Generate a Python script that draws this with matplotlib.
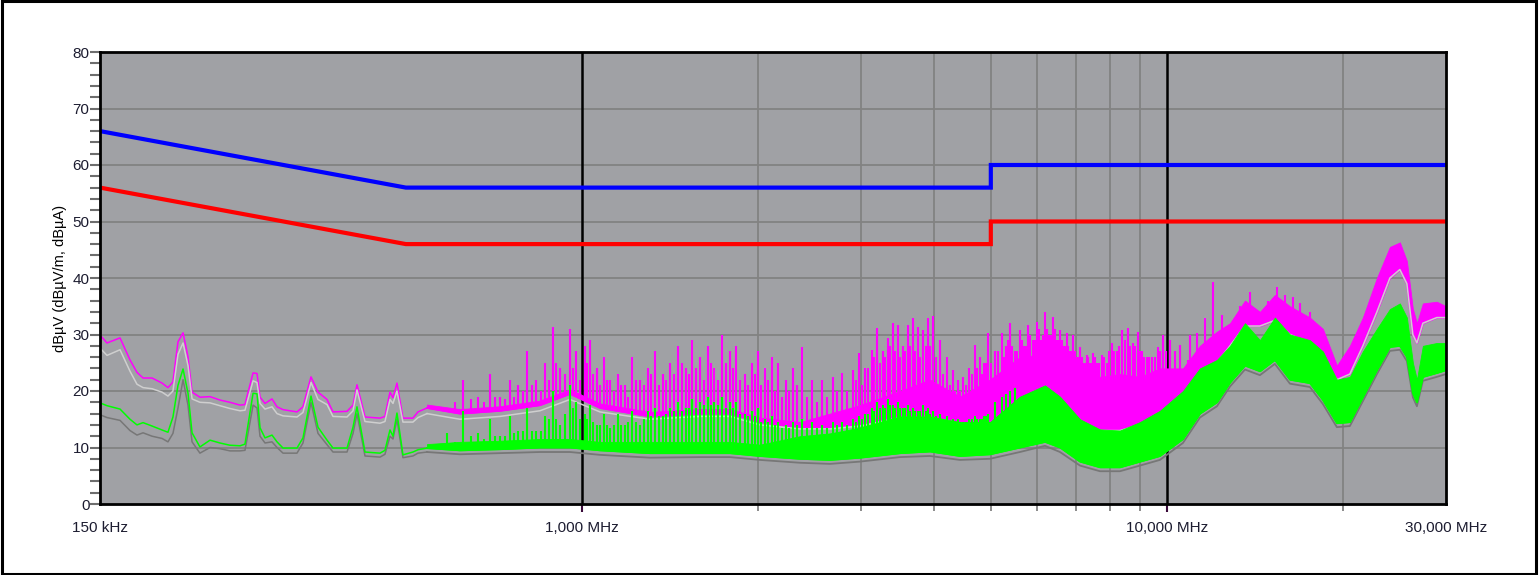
import numpy as np
import matplotlib
matplotlib.use("Agg")
import matplotlib.pyplot as plt
from matplotlib.patches import Rectangle

plt.rcParams['font.family'] = ['Liberation Sans', 'DejaVu Sans']

# ---------------- data ----------------
limit_f = [0.15, 0.5, 5.0, 5.0, 30.0]
qp_limit = [66, 56, 56, 60, 60]
avg_limit = [56, 46, 46, 50, 50]

# low-frequency part (individual traces), MHz / dBuV
low_f = [0.150, 0.1542, 0.1623, 0.1688, 0.1735, 0.1777, 0.1841, 0.1915, 0.1960, 0.1999,
         0.2039, 0.2080, 0.2121, 0.2155, 0.2223, 0.2313, 0.2405, 0.2502, 0.2603, 0.2654,
         0.2740, 0.2783, 0.2816, 0.2872, 0.2952, 0.3011, 0.3083, 0.3257, 0.3335, 0.3442,
         0.3538, 0.3666, 0.3753, 0.3966, 0.4061, 0.4125, 0.4257, 0.4516, 0.4605, 0.4697,
         0.4753, 0.4828, 0.4943, 0.5141, 0.5244, 0.5434]
low_pk = [29.9, 28.5, 29.4, 25.5, 23.3, 22.3, 22.3, 21.4, 20.6, 21.6,
          28.7, 30.3, 26.0, 19.8, 18.9, 19.0, 18.4, 18.0, 17.5, 17.6,
          23.2, 23.1, 18.9, 17.8, 18.6, 17.2, 16.7, 16.3, 17.2, 22.5,
          19.8, 18.5, 16.3, 16.4, 17.5, 21.1, 15.4, 15.2, 15.5, 19.8,
          18.8, 21.4, 15.2, 15.2, 16.3, 17.0]
low_lg = [27.6, 26.3, 27.3, 23.5, 21.2, 20.6, 20.4, 19.8, 19.1, 20.0,
          26.5, 28.5, 24.5, 18.6, 18.0, 17.9, 17.4, 16.9, 16.5, 16.6,
          21.8, 21.5, 17.8, 16.8, 17.2, 16.0, 15.6, 15.4, 16.2, 21.5,
          18.5, 17.6, 15.5, 15.4, 16.5, 20.2, 14.6, 14.3, 14.6, 18.5,
          17.8, 20.0, 14.5, 14.5, 15.3, 16.0]
low_av = [17.9, 17.4, 16.8, 15.0, 14.0, 14.4, 13.8, 13.1, 12.7, 15.4,
          21.0, 23.9, 19.6, 12.6, 10.1, 11.3, 10.8, 10.4, 10.3, 10.6,
          19.6, 19.5, 13.5, 11.7, 12.2, 11.0, 9.9, 9.9, 11.7, 19.1,
          13.6, 11.3, 9.9, 9.9, 13.6, 17.2, 9.2, 9.0, 9.5, 13.1,
          12.0, 16.1, 8.7, 9.2, 9.6, 9.9]
low_dg = [15.8, 15.3, 14.8, 13.0, 12.2, 12.6, 12.0, 11.6, 11.0, 12.5,
          17.0, 22.0, 17.5, 11.0, 9.0, 10.0, 9.8, 9.4, 9.4, 9.5,
          17.5, 17.0, 12.0, 10.8, 11.0, 10.0, 9.0, 9.0, 10.8, 18.0,
          12.5, 10.5, 9.2, 9.2, 12.5, 16.0, 8.5, 8.3, 8.8, 12.0,
          11.5, 15.0, 8.2, 8.5, 9.0, 9.2]

# dense part: lower/upper edges of the filled bands
band_f = [0.5434, 0.6186, 0.7244, 0.8476, 0.9539, 1.0733, 1.3069, 1.5911, 1.7906, 2.0149,
          2.3584, 2.6544, 2.9869, 3.4965, 3.9346, 4.4281, 4.9822, 5.6065, 6.1883, 6.5649,
          7.1028, 7.6829, 8.3113, 8.9920, 9.7275, 10.651, 11.387, 12.177, 12.820, 13.597,
          14.421, 15.297, 16.230, 17.556, 18.478, 19.524, 20.549, 21.627, 22.856, 24.054,
          25.018, 25.718, 26.332, 26.753, 27.390, 28.936, 30.0]
band_pk = [17.0, 16.0, 16.5, 17.5, 19.5, 17.0, 15.5, 16.0, 16.0, 14.5,
           13.5, 13.5, 14.0, 15.5, 15.5, 14.5, 14.3, 17.0, 19.5, 18.0,
           14.5, 13.0, 13.0, 14.0, 16.5, 19.0, 22.5, 25.0, 28.0, 31.5,
           31.5, 32.5, 30.0, 28.5, 26.0, 22.0, 23.0, 28.0, 34.0, 40.0,
           41.5, 39.0, 30.0, 28.5, 32.0, 33.0, 33.0]
band_pk_top = [17.6, 16.8, 17.3, 18.3, 20.3, 17.8, 16.3, 16.8, 16.8, 15.3,
               14.5, 16.0, 17.5, 20.0, 22.0, 19.0, 22.0, 26.0, 26.5, 25.0,
               23.5, 22.5, 23.0, 22.5, 24.0, 24.0, 28.0, 30.5, 32.0, 36.0,
               34.0, 37.0, 35.0, 33.0, 31.0, 24.5, 28.0, 33.0, 40.0, 45.5,
               46.3, 43.0, 34.5, 32.0, 35.5, 35.8, 35.0]
band_lg = [16.0, 15.0, 15.5, 16.5, 18.5, 16.3, 15.0, 15.5, 15.5, 14.0,
           13.3, 13.3, 13.8, 15.3, 15.3, 14.3, 14.0, 17.0, 19.5, 18.0,
           14.5, 13.0, 13.0, 14.0, 16.0, 19.0, 22.5, 25.0, 28.0, 31.5,
           31.5, 32.5, 30.0, 28.5, 26.0, 22.0, 23.0, 28.0, 34.0, 40.0,
           41.5, 39.0, 30.0, 28.5, 32.0, 33.0, 33.0]
band_av = [9.9, 9.5, 9.7, 10.0, 10.0, 9.5, 9.0, 9.0, 9.0, 8.5,
           8.0, 7.8, 8.2, 9.0, 9.3, 8.5, 8.8, 10.0, 11.0, 10.0,
           7.5, 6.5, 6.5, 7.5, 8.5, 11.5, 16.0, 18.0, 21.5, 24.5,
           23.5, 25.5, 22.0, 21.4, 18.4, 14.3, 14.5, 18.9, 23.7, 27.8,
           28.0, 26.0, 19.6, 18.0, 22.5, 23.2, 23.7]
band_av_top = [10.6, 11.0, 11.2, 11.5, 11.5, 11.0, 11.0, 11.0, 11.0, 10.5,
               12.0, 12.5, 13.5, 15.5, 15.5, 14.5, 14.5, 19.0, 21.0, 19.0,
               15.0, 13.2, 13.0, 14.5, 16.5, 20.0, 24.0, 25.5, 28.0, 32.0,
               29.0, 33.0, 30.0, 29.0, 27.0, 22.0, 22.5, 27.0, 31.0, 34.5,
               35.5, 33.0, 25.0, 22.0, 28.0, 28.5, 28.5]
band_dg = [9.2, 8.8, 9.0, 9.2, 9.2, 8.7, 8.2, 8.3, 8.3, 7.8,
           7.3, 7.1, 7.5, 8.3, 8.5, 7.8, 8.0, 9.2, 10.3, 9.2,
           6.8, 5.8, 5.8, 6.8, 7.8, 10.8, 15.3, 17.3, 20.8, 23.8,
           22.8, 24.8, 21.3, 20.7, 17.7, 13.6, 13.8, 18.2, 23.0, 27.1,
           27.3, 25.3, 18.9, 17.3, 21.8, 22.5, 23.0]

# peak-trace spikes (MHz, dBuV)
spike_f = [0.5877, 0.6259, 0.6640, 0.6962, 0.7244, 0.7535, 0.7775, 0.8054, 0.8343, 0.8646,
           0.8921, 0.9170, 0.9539, 0.9766, 1.0119, 1.0320, 1.0608, 1.0905, 1.1166, 1.1521,
           1.1844, 1.2174, 1.2563, 1.2966, 1.3329, 1.3755, 1.4138, 1.4591, 1.5058, 1.5417,
           1.5911, 1.6421, 1.6812, 1.7350, 1.7906, 1.8331, 1.8993, 1.9525, 1.9992, 2.0551,
           2.1125, 2.1627, 2.2320, 2.2945, 2.3773, 2.4727, 2.5720, 2.6857, 2.7826, 2.9056,
           2.9751, 3.0464, 3.1313, 3.1935, 3.2697, 3.3350, 3.4012, 3.4692, 3.5380, 3.6085,
           3.6802, 3.7537, 3.8282, 3.9047, 3.9811, 4.0926, 4.2064, 4.3074, 4.3927, 4.4806,
           4.5850, 4.6950, 4.7880, 4.8644, 4.9431, 5.0816, 5.2228, 5.3063, 5.3904, 5.4976,
           5.6065, 5.6962, 5.7864, 5.9012, 5.9958, 6.0907, 6.1883, 6.2863, 6.3858, 6.4883,
           6.5649, 6.6688, 6.7484, 6.8282, 6.9090, 7.0197, 7.1028, 7.2151, 7.2997, 7.3876,
           7.4749, 7.5934, 7.7446, 7.8978, 8.0538, 8.2130, 8.3768, 8.5769, 8.7487, 8.9219,
           9.0647, 9.2439, 9.4291, 9.6518, 9.8446, 10.118, 10.320, 10.524, 10.862, 10.947,
           11.254, 11.614, 11.985, 12.417, 13.33, 13.87, 14.88, 15.42, 15.91, 16.42,
           16.88, 17.556]
spike_pk = [17.0, 22.0, 19.0, 23.0, 19.0, 22.0, 21.0, 27.0, 22.0, 25.0,
            31.3, 24.0, 31.0, 27.0, 28.0, 29.0, 24.0, 26.0, 22.0, 23.0,
            21.0, 26.0, 22.0, 24.0, 27.0, 23.0, 25.0, 28.0, 24.0, 29.0,
            26.0, 28.0, 24.0, 30.0, 27.0, 28.0, 23.0, 25.0, 27.0, 24.0,
            26.0, 25.0, 22.0, 24.0, 27.8, 22.0, 21.9, 22.5, 23.2, 23.7,
            26.7, 24.0, 27.3, 31.2, 27.0, 29.4, 32.0, 31.7, 28.0, 31.7,
            32.9, 31.3, 30.8, 32.9, 33.3, 29.0, 26.0, 23.7, 22.0, 22.5,
            24.0, 28.1, 26.0, 25.0, 30.3, 27.0, 30.3, 28.0, 32.0, 27.0,
            30.8, 28.0, 31.7, 29.0, 32.2, 29.0, 34.0, 30.0, 33.1, 29.0,
            30.8, 28.0, 30.3, 27.0, 29.9, 26.0, 27.8, 25.0, 26.4, 25.0,
            26.7, 25.0, 26.4, 25.0, 28.5, 27.0, 30.8, 31.2, 28.5, 30.4,
            27.0, 26.0, 26.0, 27.8, 29.9, 29.0, 27.0, 28.1, 25.5, 30.0,
            30.3, 33.0, 39.3, 33.5, 35.0, 37.5, 36.0, 38.4, 37.0, 36.6,
            35.5, 34.0]
# smaller spikes between the main ones
spike2_f = [0.6068, 0.6450, 0.6801, 0.7103, 0.7390, 0.7655, 0.7915, 0.8199, 0.8495, 0.8784,
            0.9046, 0.9355, 0.9653, 0.9943, 1.0220, 1.0464, 1.0757, 1.1036, 1.1344, 1.1683,
            1.2009, 1.2369, 1.2765, 1.3148, 1.3542, 1.3947, 1.4365, 1.4825, 1.5238, 1.5664,
            1.6166, 1.6617, 1.7081, 1.7628, 1.8119, 1.8662, 1.9259, 1.9759, 2.0272, 2.0838,
            2.1376, 2.1974, 2.2633, 2.3359, 2.4250, 2.5224, 2.6289, 2.7342, 2.8441, 2.9404,
            3.0108, 3.0889, 3.1624, 3.2316, 3.3024, 3.3681, 3.4352, 3.5036, 3.5733, 3.6444,
            3.7170, 3.7910, 3.8665, 3.9429, 4.0369, 4.1495, 4.2569, 4.3501, 4.4367, 4.5328,
            4.6400, 4.7415, 4.8262, 4.9038,
            5.0124, 5.1522, 5.2646, 5.3484, 5.4440, 5.5521, 5.6514, 5.7413, 5.8438, 5.9485,
            6.0433, 6.1395, 6.2373, 6.3361, 6.4371, 6.5266, 6.6169, 6.7086, 6.7883, 6.8686,
            6.9644, 7.0613, 7.1590, 7.2574, 7.3437, 7.4313, 7.5342, 7.6690, 7.8212, 7.9758,
            8.1334, 8.2949, 8.4769, 8.6628, 8.8353, 8.9933, 9.1543, 9.3365, 9.5405, 9.7482,
            9.9813]
spike2_pk = [18, 18.5, 18, 19, 18.5, 19, 20, 21, 20, 22,
             25, 23, 24, 22, 25, 23, 21, 22, 20, 21,
             19, 22, 21, 23, 21, 22, 23, 25, 23, 24,
             22, 25, 22, 25, 24, 22, 21, 23, 21, 22,
             20, 19, 20, 21, 19, 18, 19, 20, 20, 22,
             21, 24, 26, 25, 26, 28, 27, 26, 27, 28,
             27, 26, 28, 28, 26, 23, 21, 20, 20, 21,
             23, 24, 23, 25,
             25, 27, 26, 29, 28, 27, 29, 28, 30, 29,
             31, 30, 31, 30, 31, 29, 29, 28, 28, 27,
             27, 26, 26, 25, 26, 25, 26, 25, 26, 27,
             27, 28, 29, 28, 28, 27, 26, 26, 26, 27,
             27]

# average-trace spikes (MHz, dBuV)
gspike_f = spike_f[:80]
gspike_av = [12.5, 16.5, 12.5, 15.0, 12.0, 15.5, 13.0, 17.0, 13.0, 15.5,
             20.0, 14.0, 21.0, 18.0, 16.0, 17.5, 14.0, 16.0, 13.5, 16.0,
             14.0, 16.5, 14.0, 16.5, 17.0, 15.5, 17.0, 18.0, 17.0, 18.5,
             18.0, 19.0, 18.0, 19.0, 18.0, 18.0, 16.0, 16.5, 17.0, 15.0,
             15.5, 14.5, 14.0, 14.5, 15.0, 14.5, 14.0, 14.5, 14.5, 15.0,
             15.5, 16.0, 17.0, 18.0, 17.5, 18.5, 17.5, 18.0, 17.0, 17.5,
             17.0, 16.5, 17.5, 17.0, 16.5, 16.0, 15.5, 15.0, 15.0, 14.5,
             15.0, 15.5, 15.0, 15.5, 16.0, 18.0, 19.0, 19.5, 20.0, 20.5]
gspike2_f = spike2_f[:74]
gspike2_av = [11, 12, 11.5, 12, 12, 12.5, 13, 13, 13, 15,
              15, 16, 17, 15, 15, 14.5, 14, 14, 14, 14,
              14.5, 14.5, 15, 15.5, 15.5, 16, 16.5, 16.5, 17, 17,
              17.5, 17.5, 17.5, 17, 17, 16, 15.5, 15.5, 14.5, 14.5,
              14, 13.5, 13.5, 14, 13.5, 13.5, 13.5, 14, 14, 14.5,
              15, 16, 16.5, 17, 17, 17.5, 17, 17, 17, 16.5,
              16.5, 16.5, 16.5, 16, 15.5, 15, 14.5, 14.5, 14.5, 14.5,
              15, 15, 15, 15.5]

x_ticks = [0.15, 1.0, 10.0, 30.0]
x_labels = ["150 kHz", "1,000 MHz", "10,000 MHz", "30,000 MHz"]
x_minor = [2, 3, 4, 5, 6, 7, 8, 9, 20]
y_ticks = [0, 10, 20, 30, 40, 50, 60, 70, 80]
y_label = "dBµV (dBµV/m, dBµA)"

# ---------------- colours ----------------
C_BG = '#a0a1a5'
C_MAG = '#ff00ff'
C_GRN = '#00ff00'
C_LG = '#cfcfcf'
C_DG = '#777777'

W, H = 1539, 575
fig = plt.figure(figsize=(W / 100, H / 100), dpi=100)
fig.patch.set_facecolor('white')
ax = fig.add_axes([100 / W, 1 - 504 / H, 1346 / W, 452 / H])
ax.set_xscale('log')
ax.set_xlim(0.15, 30)
ax.set_ylim(0, 80)
ax.set_facecolor(C_BG)

# grid
for y in y_ticks[1:-1]:
    ax.axhline(y, color='#828282', lw=1.3, zorder=1)
for f in x_minor:
    ax.axvline(f, color='#828282', lw=1.3, zorder=1)
for f in [1.0, 10.0]:
    ax.axvline(f, color='black', lw=1.8, zorder=1)

lf = np.log(band_f)
SPW = 1.5

# peak trace (magenta)
ax.plot(low_f, low_pk, color=C_MAG, lw=1.1, zorder=3)
ax.fill_between(band_f, band_pk, band_pk_top, color=C_MAG, lw=0.6, zorder=3)
ax.plot(band_f, band_pk, color=C_MAG, lw=1.3, zorder=3)
ax.vlines(spike_f, np.interp(np.log(spike_f), lf, band_pk), spike_pk,
          color=C_MAG, lw=SPW, zorder=3)
ax.vlines(spike2_f, np.interp(np.log(spike2_f), lf, band_pk), spike2_pk,
          color=C_MAG, lw=SPW, zorder=3)

# light grey trace
ax.plot(low_f, low_lg, color=C_LG, lw=1.1, zorder=4)
ax.plot(band_f, band_lg, color=C_LG, lw=1.1, zorder=4)

# average trace (green)
ax.plot(low_f, low_av, color=C_GRN, lw=1.1, zorder=5)
ax.fill_between(band_f, band_av, band_av_top, color=C_GRN, lw=0.6, zorder=5)
ax.plot(band_f, band_av, color=C_GRN, lw=1.3, zorder=5)
ax.vlines(gspike_f, np.interp(np.log(gspike_f), lf, band_av), gspike_av,
          color=C_GRN, lw=SPW, zorder=5)
ax.vlines(gspike2_f, np.interp(np.log(gspike2_f), lf, band_av), gspike2_av,
          color=C_GRN, lw=SPW, zorder=5)

# dark grey trace
ax.plot(low_f, low_dg, color=C_DG, lw=1.1, zorder=4.5)
ax.plot(band_f, band_dg, color=C_DG, lw=1.3, zorder=4.5)

# limit lines
ax.plot(limit_f, qp_limit, color='#0000ff', lw=3.0, zorder=6, solid_joinstyle='miter')
ax.plot(limit_f, avg_limit, color='#ff0000', lw=3.0, zorder=6, solid_joinstyle='miter')

# axes styling
for s in ax.spines.values():
    s.set_color('black')
    s.set_linewidth(2.0)
    s.set_zorder(7)

ax.set_xticks(x_ticks)
ax.set_xticklabels(x_labels)
ax.set_xticks(x_minor, minor=True)
ax.xaxis.set_minor_formatter(plt.NullFormatter())
ax.tick_params(axis='x', which='major', length=6, width=1.5, color='#3a0a3a',
               pad=6, labelsize=11, labelcolor='#1c1c30')
ax.tick_params(axis='x', which='minor', length=5, width=1.3, color='#828282')
for i in (0, 3):
    ax.xaxis.get_major_ticks()[i].tick1line.set_visible(False)

ax.set_yticks(y_ticks)
ax.set_yticks(np.arange(0, 81, 2), minor=True)
ax.tick_params(axis='y', which='both', length=7.5, width=1.5, color='#6e6e6e',
               pad=0, labelsize=11, labelcolor='#1c1c30')

ax.set_ylabel(y_label, fontsize=10.5, color='black')
ax.yaxis.set_label_coords(-33 / 1346, 0.5)

# figure frame
fig.patches.append(Rectangle((0.001, 0.002), 0.997, 0.996, transform=fig.transFigure,
                             fill=False, edgecolor='black', lw=2.2))

fig.savefig('out.png', dpi=100)
